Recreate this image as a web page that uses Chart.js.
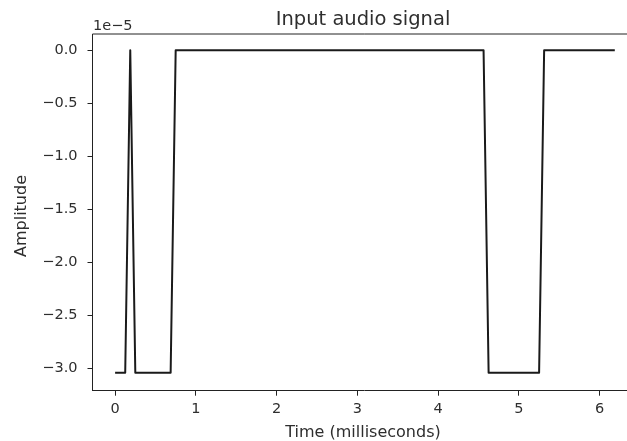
<!DOCTYPE html>
<html>
<head>
<meta charset="utf-8">
<title>Input audio signal</title>
<script src="https://cdn.jsdelivr.net/npm/chart.js@4.4.0/dist/chart.umd.min.js"></script>
<style>
  html, body { margin: 0; padding: 0; background: #fff; }
  .frame { width: 627px; height: 441px; overflow: hidden; position: relative; }
  #signal-chart { display: block; }
</style>
</head>
<body>
<div class="frame">
  <canvas id="signal-chart" width="660" height="441"></canvas>
</div>
<script>
// Signal vertices (time in ms, amplitude in raw units)
const timeMs = [0, 0.125, 0.1875, 0.25, 0.6875, 0.75, 4.5625, 4.625, 5.25, 5.3125, 6.1875];
const amplitude = [-3.04e-5, -3.04e-5, 0, -3.04e-5, -3.04e-5, 0, 0, -3.04e-5, -3.04e-5, 0, 0];

// Tick positions
const xTicks = [0, 1, 2, 3, 4, 5, 6];
const yTicks = [0, -0.5e-5, -1.0e-5, -1.5e-5, -2.0e-5, -2.5e-5, -3.0e-5];

const FONT = 'DejaVu Sans';
const TEXT = '#2e2e2e';
const AXIS = '#222';

function fmtMinus(s) {
  return s.replace('-', '\u2212');
}

// Title, axis labels, offset text, and the top/right spines
const decorations = {
  id: 'decorations',
  afterDraw(chart) {
    const ctx = chart.ctx;
    const area = chart.chartArea;
    ctx.save();

    ctx.strokeStyle = AXIS;
    ctx.lineWidth = 1;
    ctx.beginPath();
    ctx.moveTo(area.left, area.top);
    ctx.lineTo(area.right, area.top);
    ctx.lineTo(area.right, area.bottom);
    ctx.stroke();

    ctx.fillStyle = TEXT;
    ctx.textAlign = 'center';
    ctx.textBaseline = 'alphabetic';
    ctx.font = '19.5px "' + FONT + '"';
    ctx.fillText('Input audio signal', 363, 25);

    ctx.font = '16px "' + FONT + '"';
    ctx.fillText('Time (milliseconds)', 363, 437);

    ctx.save();
    ctx.translate(22, 216);
    ctx.rotate(-Math.PI / 2);
    ctx.textBaseline = 'middle';
    ctx.fillText('Amplitude', 0, 0);
    ctx.restore();

    ctx.textAlign = 'left';
    ctx.font = '14.5px "' + FONT + '"';
    ctx.fillText('1e\u22125', 93, 30);

    ctx.restore();
  }
};

function initSignalChart() {
  const canvas = document.getElementById('signal-chart');
  if (!canvas) return;

  const points = timeMs.map((t, i) => ({ x: t, y: amplitude[i] }));

  new Chart(canvas, {
    type: 'line',
    data: {
      datasets: [
        {
          data: points,
          borderColor: '#1a1a1a',
          borderWidth: 2,
          borderJoinStyle: 'round',
          pointRadius: 0,
          tension: 0,
          fill: false
        }
      ]
    },
    options: {
      responsive: false,
      animation: false,
      devicePixelRatio: 1,
      layout: {
        padding: { left: 0, top: 34, right: 24, bottom: 0 }
      },
      plugins: {
        legend: { display: false },
        title: { display: false },
        tooltip: { enabled: false }
      },
      scales: {
        x: {
          type: 'linear',
          min: -0.28,
          max: 6.45,
          afterBuildTicks: (scale) => {
            scale.ticks = xTicks.map(v => ({ value: v }));
          },
          afterFit: (scale) => {
            scale.height = 50.3;
          },
          grid: {
            display: true,
            drawOnChartArea: false,
            drawTicks: true,
            tickLength: 5,
            color: AXIS,
            lineWidth: 1
          },
          border: { display: true, color: AXIS, width: 1 },
          ticks: {
            color: TEXT,
            padding: 5,
            maxRotation: 0,
            autoSkip: false,
            font: { family: FONT, size: 14.5 },
            callback: (v) => String(v)
          }
        },
        y: {
          type: 'linear',
          min: -3.21e-5,
          max: 0.154e-5,
          afterBuildTicks: (scale) => {
            scale.ticks = yTicks.map(v => ({ value: v }));
          },
          afterFit: (scale) => {
            scale.width = 92.5;
          },
          grid: {
            display: true,
            drawOnChartArea: false,
            drawTicks: true,
            tickLength: 5,
            color: AXIS,
            lineWidth: 1
          },
          border: { display: true, color: AXIS, width: 1 },
          ticks: {
            color: TEXT,
            padding: 10,
            autoSkip: false,
            font: { family: FONT, size: 14.5 },
            callback: (v) => {
              const n = Math.round(v / 1e-6) / 10;
              return fmtMinus((n === 0 ? 0 : n).toFixed(1));
            }
          }
        }
      }
    },
    plugins: [decorations]
  });
}

document.addEventListener('DOMContentLoaded', () => {
  initSignalChart();
});
</script>
</body>
</html>
